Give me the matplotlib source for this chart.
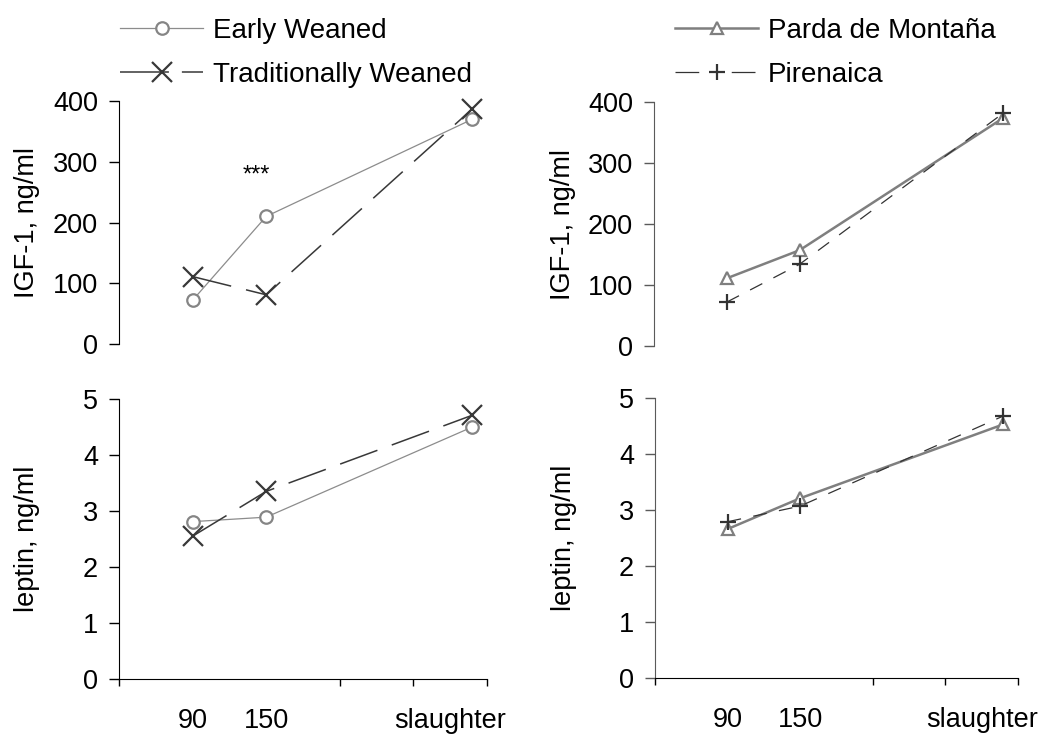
import numpy as np
import matplotlib
matplotlib.use('Agg')
import matplotlib.pyplot as plt
from matplotlib.lines import Line2D

plt.rcParams['font.family'] = ['Liberation Sans', 'DejaVu Sans']

# x positions of sampling times (category slots on a 0..5 axis)
x_pos = [1, 2, 4.8]
x_label_pos = [1, 2, 4.5]
x_labels = ['90', '150', 'slaughter']

# weaning groups
igf_early = [72, 210, 370]
igf_trad = [111, 81, 387]
lep_early = [2.81, 2.89, 4.50]
lep_trad = [2.55, 3.35, 4.71]

# breeds
igf_parda = [111, 157, 374]
igf_piren = [72, 134, 382]
lep_parda = [2.66, 3.21, 4.53]
lep_piren = [2.79, 3.07, 4.68]

FS = 19.5
W, H = 1042, 734

fig = plt.figure(figsize=(W / 100, H / 100), dpi=100)


def px_axes(left, top, right, bottom):
    return fig.add_axes([left / W, 1 - bottom / H, (right - left) / W, (bottom - top) / H])


ax_tl = px_axes(119, 101, 487, 344)
ax_bl = px_axes(119, 399, 487, 679)
ax_tr = px_axes(654, 102, 1018, 346)
ax_br = px_axes(655, 398, 1018, 678)

style_early = dict(color='#8c8c8c', lw=0.9, marker='o', ms=9, mfc='white',
                   mec='#858585', mew=1.6, label='Early Weaned')
style_trad = dict(color='#383838', lw=1.1, marker='x', ms=15, mew=1.6,
                  dashes=(26, 10), label='Traditionally Weaned')
style_parda = dict(color='#7f7f7f', lw=1.8, marker='^', ms=9, mfc='white',
                   mec='#7f7f7f', mew=1.6, label='Parda de Montaña')
style_piren = dict(color='#333333', lw=0.9, marker='+', ms=11, mew=1.6,
                   dashes=(11, 10), label='Pirenaica')

ax_tl.plot(x_pos, igf_early, clip_on=False, zorder=3, **style_early)
ax_tl.plot(x_pos, igf_trad, clip_on=False, zorder=4, **style_trad)
ax_bl.plot(x_pos, lep_early, clip_on=False, zorder=3, **style_early)
ax_bl.plot(x_pos, lep_trad, clip_on=False, zorder=4, **style_trad)

ax_tr.plot(x_pos, igf_parda, clip_on=False, zorder=3, **style_parda)
ax_tr.plot(x_pos, igf_piren, clip_on=False, zorder=4, **style_piren)
ax_br.plot(x_pos, lep_parda, clip_on=False, zorder=3, **style_parda)
ax_br.plot(x_pos, lep_piren, clip_on=False, zorder=4, **style_piren)

ax_tl.text(1.87, 267, '***', ha='center', va='baseline', fontsize=17)

for ax, spine_col in [(ax_tl, 'black'), (ax_bl, 'black'), (ax_tr, '#5a5a5a'), (ax_br, '#5a5a5a')]:
    ax.set_xlim(0, 5)
    for s in ['top', 'right']:
        ax.spines[s].set_visible(False)
    ax.spines['left'].set_color(spine_col)
    ax.tick_params(axis='y', direction='out', length=7, width=1, color=spine_col,
                   pad=8, labelsize=FS)

for ax in [ax_tl, ax_tr]:
    ax.set_ylim(0, 400)
    ax.set_yticks([0, 100, 200, 300, 400])
    ax.spines['bottom'].set_visible(False)
    ax.set_xticks([])
    ax.set_ylabel('IGF-1, ng/ml', fontsize=FS, va='center')
    ax.yaxis.set_label_coords(-0.25, 0.5)

for ax in [ax_bl, ax_br]:
    ax.set_ylim(0, 5)
    ax.set_yticks(range(6))
    ax.set_xticks(x_label_pos, x_labels)
    ax.set_xticks(range(6), minor=True)
    ax.tick_params(axis='x', which='major', length=0, pad=21, labelsize=FS)
    ax.tick_params(axis='x', which='minor', direction='out', length=5, width=1)
    ax.set_ylabel('leptin, ng/ml', fontsize=FS, va='center')
    ax.yaxis.set_label_coords(-0.25, 0.5)

# legend proxies, dash patterns tuned to the short legend sample
h_early = Line2D([], [], **style_early)
h_trad = Line2D([], [], **dict(style_trad, dashes=(32, 8.5)))
h_parda = Line2D([], [], **style_parda)
h_piren = Line2D([], [], **dict(style_piren, dashes=(19, 26)))

leg_kw = dict(loc='upper left', frameon=False, fontsize=20, handlelength=3.0,
              handletextpad=0.35, labelspacing=0.64, borderpad=0, borderaxespad=0)
fig.legend(handles=[h_early, h_trad], bbox_to_anchor=(120 / W, 1 - 18 / H), **leg_kw)
fig.legend(handles=[h_parda, h_piren], bbox_to_anchor=(675 / W, 1 - 18 / H), **leg_kw)

fig.savefig('out.png', dpi=100)
